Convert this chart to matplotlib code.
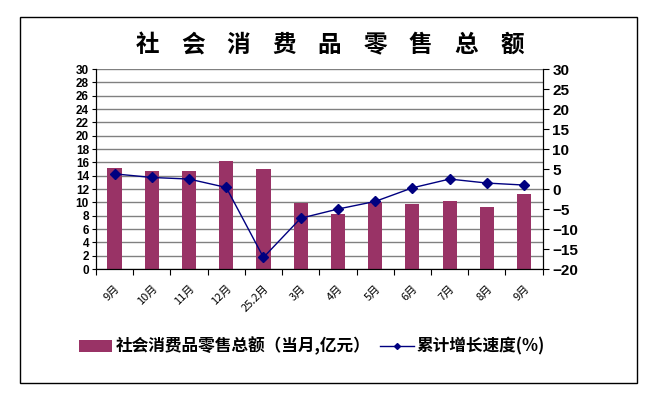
import matplotlib
matplotlib.use('Agg')
import matplotlib.pyplot as plt
from matplotlib.patches import Rectangle
import numpy as np

plt.rcParams['font.family'] = ['Liberation Sans', 'Noto Sans CJK SC', 'DejaVu Sans']

# 月份
MONTHS = ['9月', '10月', '11月', '12月', '25.2月', '3月', '4月', '5月', '6月', '7月', '8月', '9月']
# 社会消费品零售总额（当月，亿元）
RETAIL = [15.2, 14.7, 14.7, 16.2, 15.0, 9.9, 8.3, 10.0, 9.8, 10.2, 9.3, 11.3]
# 累计增长速度（%）
GROWTH = [3.8, 2.9, 2.5, 0.4, -17.1, -7.3, -5.0, -3.1, 0.3, 2.5, 1.5, 1.0]
TITLE = '社会消费品零售总额'

BAR_COLOR = '#993366'
LINE_COLOR = '#000080'


def main():
    fig = plt.figure(figsize=(6.57, 3.97), dpi=100)
    ax = fig.add_axes([0.146, 0.3224, 0.68, 0.5035])
    x = np.arange(len(MONTHS))

    # 柱状图
    ax.bar(x, RETAIL, width=0.38, color=BAR_COLOR, zorder=2, label='社会消费品零售总额（当月,亿元）')
    ax.set_ylim(0, 30)
    ax.set_yticks(np.arange(0, 31, 2))
    ax.set_xlim(-0.5, len(MONTHS) - 0.5)
    ax.yaxis.grid(True, color='#808080', linewidth=1, zorder=0)
    ax.set_axisbelow(True)
    ax.spines['top'].set_visible(False)
    for side in ['left', 'bottom', 'right']:
        ax.spines[side].set_color('black')
    ax.tick_params(axis='y', labelsize=8.5, length=3, direction='out', pad=2)
    for lbl in ax.get_yticklabels():
        lbl.set_fontweight('bold')

    # x轴刻度在类别之间
    ax.set_xticks(np.arange(-0.5, len(MONTHS), 1), minor=False)
    ax.set_xticklabels([])
    ax.set_xticks(x, minor=True)
    ax.set_xticklabels(MONTHS, minor=True, rotation=45, fontsize=8, ha='right', va='top',
                       rotation_mode='anchor', family=['Noto Sans CJK SC'])
    ax.tick_params(axis='x', which='major', length=4, direction='out')
    ax.tick_params(axis='x', which='minor', length=0, pad=10)

    # 折线图
    ax2 = ax.twinx()
    ax2.plot(x, GROWTH, color=LINE_COLOR, linewidth=1, marker='D', markersize=5,
             zorder=3, label='累计增长速度(%)')
    ax2.set_ylim(-20, 30)
    ax2.set_yticks(np.arange(-20, 31, 5))
    ax2.spines['top'].set_visible(False)
    ax2.spines['right'].set_color('black')
    ax2.tick_params(axis='y', labelsize=11, length=4, direction='out', pad=3)
    for lbl in ax2.get_yticklabels():
        lbl.set_fontweight('bold')

    # 标题，字间距较宽
    x0, x1 = 147 / 657, 512 / 657
    for i, ch in enumerate(TITLE):
        fig.text(x0 + (x1 - x0) * i / (len(TITLE) - 1), 0.887, ch, ha='center', va='center',
                 fontsize=17, fontweight='bold', family=['Noto Sans CJK SC'])

    # 图例
    h1, l1 = ax.get_legend_handles_labels()
    h2, l2 = ax2.get_legend_handles_labels()
    fig.legend(h1 + h2, l1 + l2, loc='center', bbox_to_anchor=(0.475, 0.128), ncol=2,
               frameon=False, prop={'family': 'Noto Sans CJK SC', 'size': 12, 'weight': 'bold'},
               handlelength=2, handletextpad=0.2, columnspacing=0.6, markerscale=0.6)

    # 外边框
    fig.patches.append(Rectangle((0.030, 0.035), 0.940, 0.923, transform=fig.transFigure,
                                 fill=False, edgecolor='black', linewidth=1))

    fig.savefig('out.png', dpi=100)


if __name__ == '__main__':
    main()
